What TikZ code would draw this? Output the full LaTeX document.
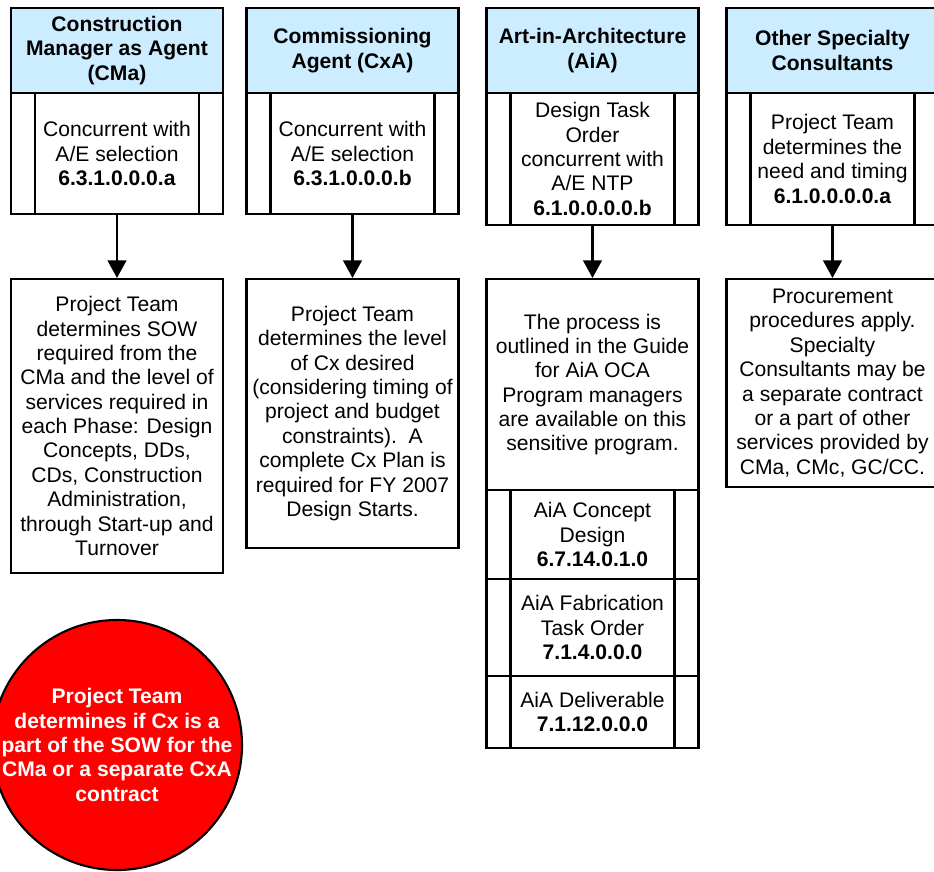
\documentclass[tikz,border=0pt]{standalone}
\usepackage{fontspec}
\setmainfont{Liberation Sans}
\usepackage{tikz}
\usetikzlibrary{arrows.meta, positioning}
\definecolor{hdrblue}{RGB}{204,236,255}
\definecolor{myred}{RGB}{255,0,0}
\tikzset{
  hdrblock/.style={rectangle, draw=black, fill=hdrblue,
    minimum width=6.36cm, minimum height=2.55cm, align=center,
    font=\fontsize{18}{20.8}\selectfont\bfseries, line width=1.8pt, inner sep=2pt},
  procblock/.style={rectangle, draw=black, fill=white,
    minimum width=6.36cm, align=center,
    font=\fontsize{18}{20.8}\selectfont, line width=1.8pt, inner sep=2pt,
    path picture={
      \draw[line width=1.8pt]
        ([xshift=0.72cm]path picture bounding box.north west) --
        ([xshift=0.72cm]path picture bounding box.south west)
        ([xshift=-0.72cm]path picture bounding box.north east) --
        ([xshift=-0.72cm]path picture bounding box.south east);}},
  block/.style={rectangle, draw=black, fill=white,
    minimum width=6.36cm, align=center,
    font=\fontsize{18}{20.8}\selectfont, line width=1.8pt, inner sep=2pt},
  redcirc/.style={circle, draw=black, fill=myred,
    minimum size=7.5cm, inner sep=0pt, line width=1.8pt},
  arrow/.style={-{Triangle[length=15pt, width=16pt]}, line width=1.8pt, color=black}
}
\begin{document}
\begin{tikzpicture}[x=0.03cm, y=-0.03cm]
  \useasboundingbox (0,0) rectangle (934,871);
  \clip (0,0) rectangle (934,871);

  % Headers
  \node[hdrblock] (cma)  at (117,50.5)   {Construction\\Manager as Agent\\(CMa)};
  \node[hdrblock] (cxa)  at (352.5,50.5) {Commissioning\\Agent (CxA)};
  \node[hdrblock] (aia)  at (592.5,50.5) {Art-in-Architecture\\(AiA)};
  \node[hdrblock] (osc)  at (832.5,50.5) {Other Specialty\\Consultants};

  % Predefined process steps
  \node[procblock, minimum height=3.63cm] (cmastep) at (117,153.5)
    {Concurrent with\\A/E selection\\\textbf{6.3.1.0.0.0.a}};
  \node[procblock, minimum height=3.63cm] (cxastep) at (352.5,153.5)
    {Concurrent with\\A/E selection\\\textbf{6.3.1.0.0.0.b}};
  \node[procblock, minimum height=3.96cm] (aiastep) at (592.5,159)
    {Design Task\\Order\\concurrent with\\A/E NTP\\\textbf{6.1.0.0.0.0.b}};
  \node[procblock, minimum height=3.96cm] (oscstep) at (832.5,159)
    {Project Team\\determines the\\need and timing\\\textbf{6.1.0.0.0.0.a}};

  % Descriptions
  \node[block, minimum height=8.82cm] (cmatext) at (117,426)
    {Project Team\\determines SOW\\required from the\\CMa and the level of\\services required in\\each Phase: Design\\Concepts, DDs,\\CDs, Construction\\Administration,\\through Start-up and\\Turnover};
  \node[block, minimum height=8.07cm] (cxatext) at (352.5,413.5)
    {Project Team\\determines the level\\of Cx desired\\(considering timing of\\project and budget\\constraints).\ \ A\\complete Cx Plan is\\required for FY 2007\\Design Starts.};
  \node[block, minimum height=6.33cm] (aiatext) at (592.5,384.5)
    {The process is\\outlined in the Guide\\for AiA OCA\\Program managers\\are available on this\\sensitive program.};
  \node[block, minimum height=6.24cm] (osctext) at (832.5,383)
    {Procurement\\procedures apply.\\Specialty\\Consultants may be\\a separate contract\\or a part of other\\services provided by\\CMa, CMc, GC/CC.};

  % AiA stack
  \node[procblock, minimum height=2.67cm] (aiaconcept) at (592.5,534.5)
    {AiA Concept\\Design\\\textbf{6.7.14.0.1.0}};
  \node[procblock, minimum height=2.91cm] (aiafab) at (592.5,627.5)
    {AiA Fabrication\\Task Order\\\textbf{7.1.4.0.0.0}};
  \node[procblock, minimum height=2.16cm] (aiadeliv) at (592.5,712)
    {AiA Deliverable\\\textbf{7.1.12.0.0.0}};

  % Connectors
  \draw[arrow] (cmastep) -- (cmatext);
  \draw[arrow] (cxastep) -- (cxatext);
  \draw[arrow] (aiastep) -- (aiatext);
  \draw[arrow] (oscstep) -- (osctext);

  % Decision note
  \node[redcirc, label={[text=white, align=center,
      font=\fontsize{18}{20.8}\selectfont\bfseries]center:{Project Team\\determines if Cx is a\\part of the SOW for the\\CMa or a separate CxA\\contract}}]
    (cxnote) at (117,745) {};
\end{tikzpicture}
\end{document}
